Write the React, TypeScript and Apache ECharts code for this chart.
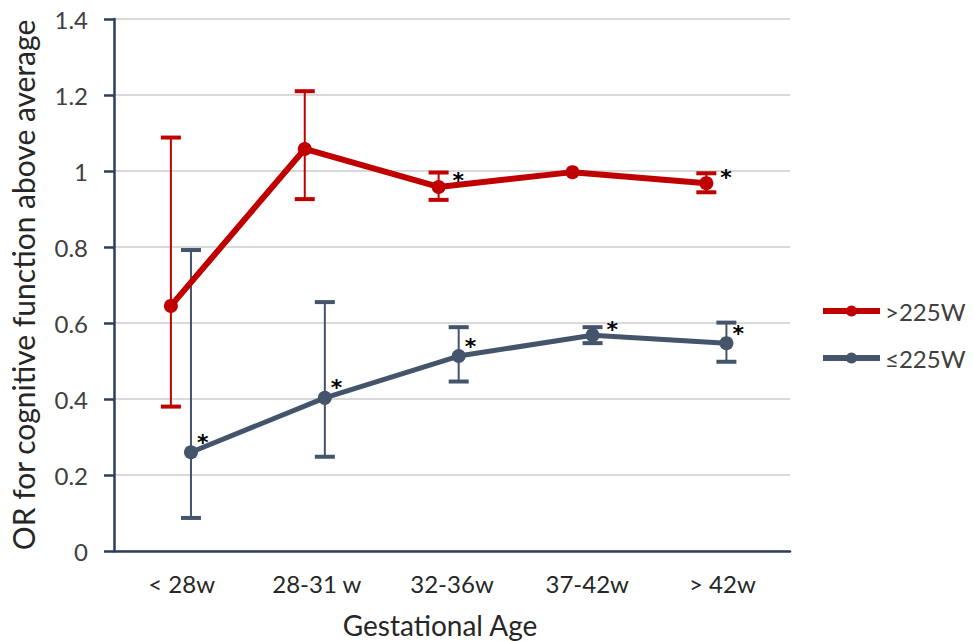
import React, { useEffect, useRef } from 'react';
import * as echarts from 'echarts';

const categories = ['< 28w', '28-31 w', '32-36w', '37-42w', '> 42w'];
const seriesNames = ['>225W', '≤225W'];

const highValues = [0.645, 1.058, 0.958, 0.997, 0.968];
const highLower = [0.38, 0.926, 0.924, 0.997, 0.944];
const highUpper = [1.088, 1.21, 0.996, 0.997, 0.994];
const highSignificant = [false, false, true, false, true];

const lowValues = [0.26, 0.403, 0.513, 0.568, 0.547];
const lowLower = [0.087, 0.248, 0.446, 0.547, 0.498];
const lowUpper = [0.792, 0.655, 0.589, 0.589, 0.601];
const lowSignificant = [true, true, true, true, true];

const yMin = 0;
const yMax = 1.4;
const yInterval = 0.2;

const FONT = 'Lato, "Open Sans", sans-serif';
const RED = '#C00000';
const NAVY = '#44546A';
const AXIS = '#2C3E5C';

const GRID_TOP = 19;
const GRID_BOTTOM = 90;
const PX_PER_UNIT = (641 - GRID_TOP - GRID_BOTTOM) / (yMax - yMin);

function pointData(values: number[], upper: number[], sig: boolean[], shift: number) {
  return values.map((v, i) => {
    const close = (upper[i] - v) * PX_PER_UNIT < 20;
    return {
      value: [i + shift, v],
      label: {
        show: sig[i],
        formatter: '*',
        position: 'right',
        offset: close ? [2, -6] : [-6, -10],
        fontSize: 22,
        fontWeight: 'bold',
        color: '#000',
        fontFamily: 'DejaVu Sans, sans-serif',
      },
    };
  });
}

function errorData(lower: number[], upper: number[], shift: number) {
  return lower.map((lo, i) => [i + shift, lo, upper[i]]);
}

function errorRenderer(color: string) {
  return (params: any, api: any) => {
    const x = api.value(0);
    const lo = api.value(1);
    const hi = api.value(2);
    if (hi - lo < 1e-6) return { type: 'group', children: [] };
    const top = api.coord([x, hi]);
    const bot = api.coord([x, lo]);
    const cap = 10;
    return {
      type: 'group',
      children: [
        { type: 'line', shape: { x1: top[0], y1: top[1], x2: bot[0], y2: bot[1] }, style: { stroke: color, lineWidth: 2 } },
        { type: 'line', shape: { x1: top[0] - cap, y1: top[1], x2: top[0] + cap, y2: top[1] }, style: { stroke: color, lineWidth: 4 } },
        { type: 'line', shape: { x1: bot[0] - cap, y1: bot[1], x2: bot[0] + cap, y2: bot[1] }, style: { stroke: color, lineWidth: 4 } },
      ],
    };
  };
}

export default function App() {
  const ref = useRef<HTMLDivElement>(null);
  useEffect(() => {
    if (!ref.current) return;
    const chart = echarts.init(ref.current, undefined, { renderer: 'svg' });
    const shiftHigh = -0.075;
    const shiftLow = 0.075;
    chart.setOption({
      animation: false,
      backgroundColor: '#fff',
      textStyle: { fontFamily: FONT },
      grid: { left: 114, right: 184, top: GRID_TOP, bottom: GRID_BOTTOM, containLabel: false, outerBoundsMode: 'none' },
      legend: {
        data: seriesNames,
        orient: 'vertical',
        left: 820,
        top: 299,
        padding: 0,
        itemWidth: 57,
        itemHeight: 14,
        itemGap: 23,
        lineStyle: { width: 6 },
        textStyle: { fontSize: 24, color: '#404040', fontFamily: FONT },
      },
      xAxis: [
        {
          type: 'category',
          data: categories,
          boundaryGap: true,
          name: 'Gestational Age',
          nameLocation: 'middle',
          nameGap: 60,
          nameTextStyle: { fontSize: 28, color: '#262626', fontFamily: FONT, padding: [0, 24, 0, 0] },
          axisLine: { show: true, lineStyle: { color: AXIS, width: 2.5 } },
          axisTick: { show: false },
          axisLabel: { fontSize: 24, color: '#262626', margin: 20, fontFamily: FONT },
          splitLine: { show: false },
        },
        {
          type: 'value',
          min: -0.5,
          max: 4.55,
          show: false,
          splitLine: { show: false },
        },
      ],
      yAxis: {
        type: 'value',
        min: yMin,
        max: yMax,
        interval: yInterval,
        name: 'OR for cognitive function above average',
        nameLocation: 'middle',
        nameGap: 76,
        nameTextStyle: { fontSize: 30, color: '#262626', fontFamily: FONT },
        axisLine: { show: true, onZero: false, lineStyle: { color: AXIS, width: 2.5 } },
        axisTick: { show: true, inside: false, length: 10, lineStyle: { color: AXIS, width: 2.5 } },
        axisLabel: { fontSize: 24, color: '#404040', margin: 26, fontFamily: FONT },
        splitLine: { show: true, lineStyle: { color: '#D9D9D9', width: 2 } },
      },
      series: [
        {
          type: 'custom',
          name: 'errHigh',
          xAxisIndex: 1,
          renderItem: errorRenderer(RED),
          data: errorData(highLower, highUpper, shiftHigh),
          z: 2,
        },
        {
          type: 'custom',
          name: 'errLow',
          xAxisIndex: 1,
          renderItem: errorRenderer(NAVY),
          data: errorData(lowLower, lowUpper, shiftLow),
          z: 2,
        },
        {
          type: 'line',
          name: seriesNames[0],
          xAxisIndex: 1,
          data: pointData(highValues, highUpper, highSignificant, shiftHigh),
          symbol: 'circle',
          symbolSize: 14,
          itemStyle: { color: RED },
          lineStyle: { color: RED, width: 6 },
          z: 3,
        },
        {
          type: 'line',
          name: seriesNames[1],
          xAxisIndex: 1,
          data: pointData(lowValues, lowUpper, lowSignificant, shiftLow),
          symbol: 'circle',
          symbolSize: 14,
          itemStyle: { color: NAVY },
          lineStyle: { color: NAVY, width: 5 },
          z: 3,
        },
      ],
    });
    return () => chart.dispose();
  }, []);
  return <div ref={ref} style={{ position: 'fixed', left: 0, top: 0, width: 974, height: 641 }} />;
}
